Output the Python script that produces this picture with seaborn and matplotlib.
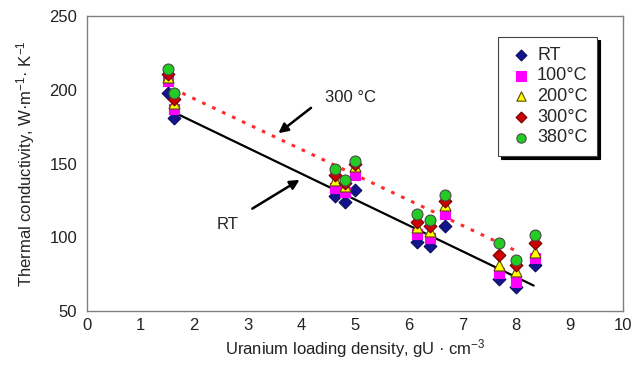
import numpy as np
import pandas as pd
import matplotlib
matplotlib.use("Agg")
import matplotlib.pyplot as plt
import seaborn as sns

# ---- data ----
density = [1.52, 1.63, 4.63, 4.81, 5.00, 6.15, 6.40, 6.67, 7.69, 8.00, 8.35]
k_rt   = [198, 181, 128, 124, 132, 97, 94, 108, 72, 66, 81]
k_100  = [206, 187, 133.5, 131, 142.5, 102.5, 99.5, 116, 75.5, 70, 86]
k_200  = [209, 191, 139, 135, 148.5, 107, 104, 122, 81, 77.5, 90]
k_300  = [211, 194, 142, 137, 150, 110.5, 108, 125, 88, 81, 96]
k_380  = [214.5, 198, 146.5, 139, 151.5, 116, 112, 128.5, 96, 84.5, 101.5]
series_labels = ["RT", "100°C", "200°C", "300°C", "380°C"]

# fitted trend lines (end points)
fit_rt_x = [1.70, 8.33]
fit_rt_y = [183.5, 67.3]
fit_300_x = [1.78, 8.08]
fit_300_y = [197.8, 89.5]

x_ticks = [0, 1, 2, 3, 4, 5, 6, 7, 8, 9, 10]
y_ticks = [50, 100, 150, 200, 250]

# ---- build long table ----
rows = []
for lab, vals in zip(series_labels, [k_rt, k_100, k_200, k_300, k_380]):
    for d, v in zip(density, vals):
        rows.append({"density": d, "k": v, "series": lab})
df = pd.DataFrame(rows)

sns.set_style("white")
plt.rcParams["font.family"] = ["Liberation Sans", "DejaVu Sans"]
plt.rcParams["mathtext.default"] = "regular"

fig = plt.figure(figsize=(6.34, 3.69), dpi=100)
ax = fig.add_axes([0.137, 0.157, 0.846, 0.799])

palette = {"RT": "#14148c", "100°C": "#ff00ff", "200°C": "#ffff00",
           "300°C": "#cc0000", "380°C": "#22cc22"}
markers = {"RT": "D", "100°C": "s", "200°C": "^", "300°C": "D", "380°C": "o"}
sizes = {"RT": 42, "100°C": 62, "200°C": 62, "300°C": 42, "380°C": 62}
edges = {"RT": "#0a0a60", "100°C": "#ff00ff", "200°C": "#5a4a00",
         "300°C": "#700000", "380°C": "#4a4a4a"}

for lab in series_labels:
    sub = df[df["series"] == lab]
    sns.scatterplot(data=sub, x="density", y="k", color=palette[lab],
                    marker=markers[lab], s=sizes[lab], edgecolor=edges[lab],
                    linewidth=0.8, ax=ax, label=lab, zorder=3)

sns.lineplot(x=fit_rt_x, y=fit_rt_y, color="black", linewidth=1.6, ax=ax,
             zorder=2, legend=False)
sns.lineplot(x=fit_300_x, y=fit_300_y, color="#ff2a2a", linewidth=2.2,
             linestyle=(0, (1.2, 2.4)), ax=ax, zorder=2, legend=False)

# annotations
ax.annotate("", xy=(3.53, 169.5), xytext=(4.22, 189),
            arrowprops=dict(arrowstyle="-|>", color="black", lw=1.8,
                            mutation_scale=14))
ax.text(4.44, 195, "300 °C", fontsize=12, ha="left", va="center", color="#222")
ax.annotate("", xy=(4.01, 140), xytext=(3.04, 118.5),
            arrowprops=dict(arrowstyle="-|>", color="black", lw=1.8,
                            mutation_scale=14))
ax.text(2.63, 109, "RT", fontsize=12, ha="center", va="center", color="#222")

ax.set_xlim(0, 10)
ax.set_ylim(50, 250)
ax.set_xticks(x_ticks)
ax.set_yticks(y_ticks)
ax.tick_params(axis="x", direction="in", length=4, color="#808080",
               labelsize=12, labelcolor="#222", pad=5)
ax.tick_params(axis="y", direction="out", length=4, color="#808080",
               labelsize=12, labelcolor="#222", pad=3)
ax.set_xlabel("Uranium loading density, gU · cm$^{-3}$", fontsize=12,
              color="#222", labelpad=3)
ax.set_ylabel("Thermal conductivity, W·m$^{-1}$· K$^{-1}$", fontsize=12,
              color="#222", labelpad=9)
for sp in ax.spines.values():
    sp.set_color("#808080")
    sp.set_linewidth(1.0)

leg = ax.legend(loc="upper right", bbox_to_anchor=(0.952, 0.93),
                fontsize=13, frameon=True, fancybox=False,
                shadow={"color": "black", "alpha": 1.0},
                handletextpad=0.2, labelspacing=0.2, borderpad=0.55,
                handlelength=1.4, borderaxespad=0, markerscale=0.85)
leg.get_frame().set_edgecolor("#444")
leg.get_frame().set_linewidth(0.8)

fig.savefig("out.png", dpi=100)
